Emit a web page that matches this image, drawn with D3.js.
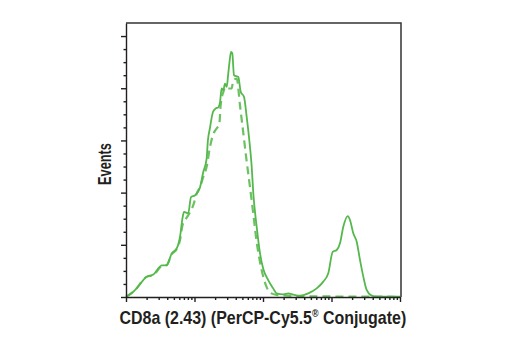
<!DOCTYPE html>
<html>
<head>
<meta charset="utf-8">
<script src="https://cdn.jsdelivr.net/npm/d3@7"></script>
<style>
  html, body { margin: 0; padding: 0; background: #fff; }
  svg { display: block; }
</style>
</head>
<body>
<svg id="chart" width="520" height="350"></svg>
<script>
// ---- data ----
const xLabel = "CD8a (2.43) (PerCP-Cy5.5";
const xLabelSup = "®";
const xLabelTail = " Conjugate)";
const yLabel = "Events";
const yTickValues = [0, 20, 40, 60, 80, 100];
const xDomain = [1, 10000];
const yDomain = [0, 105];

// solid histogram (stained)
const solidX = [1, 1.28, 1.43, 2.0, 2.5, 3.32, 3.93, 4.65, 5.5, 6.14, 6.68, 7.03, 8.11, 8.89, 10.2, 12.0, 13.4, 15.0, 15.7, 16.8,
  18.6, 20.3, 22.3, 23.6, 24.9, 26.3, 27.9, 29.5, 31.1, 32.4, 34.1, 35.6, 37.7, 43.6, 47.3, 52.8, 57.8, 63.1, 68.4, 72.2,
  80.9, 90.4, 101, 119, 140, 158, 198, 234, 277, 347, 458, 608, 759, 897, 1042, 1191, 1331, 1487, 1723, 1862,
  2080, 2332, 2606, 2913, 3263, 3864, 4568, 10000];
const solidY = [0.1, 2.0, 3.3, 7.8, 8.6, 12.1, 12.2, 16.7, 18.6, 23.0, 30.2, 32.6, 32.1, 38.3, 39.0, 41.9, 47.8, 52.8, 60.0, 64.7,
  70.9, 72.2, 72.7, 74.7, 79.9, 79.2, 81.8, 80.5, 85.6, 89.9, 93.9, 93.4, 85.0, 84.3, 78.6, 76.7, 69.0, 60.1, 49.9, 39.7,
  26.9, 16.8, 10.7, 6.5, 3.4, 1.4, 1.0, 1.4, 0.9, 0.5, 1.4, 3.3, 5.9, 9.1, 17.3, 18.0, 20.6, 26.9, 31.0, 29.5,
  24.4, 21.2, 14.2, 7.8, 2.7, 0.5, 0.1, 0.1];

// dashed histogram (control)
const dashedX = [1, 1.28, 2.0, 2.5, 3.32, 3.93, 4.65, 5.5, 6.14, 6.68, 7.15, 7.77, 8.6, 9.6, 10.8, 12.0, 13.4, 15.1, 16.8, 18.8,
  20.6, 23.0, 24.1, 26.3, 28.8, 31.1, 34.9, 36.8, 41.3, 46.1, 51.6, 57.0, 64.6, 72.2, 80.9, 90.4, 101, 113, 126, 158,
  198, 347, 10000];
const dashedY = [0.1, 2.0, 7.7, 8.4, 11.8, 12.2, 16.4, 18.4, 21.8, 27.5, 29.1, 30.6, 32.5, 35.2, 39.7, 42.1, 45.9, 50.1, 57.4, 62.4,
  64.3, 66.2, 73.5, 78.5, 80.5, 79.9, 79.9, 83.0, 83.7, 73.5, 62.8, 53.2, 42.1, 31.8, 21.0, 13.4, 7.7, 3.8, 1.7, 0.8,
  0.6, 0.3, 0.1];

// ---- layout ----
const mLeft = 126, mRight = 400, mTop = 23, mBottom = 297;
const svg = d3.select("#chart");
const green = "#55b84c";
const axisColor = "#231f20";

const x = d3.scaleLog().domain(xDomain).range([mLeft, mRight]);
const y = d3.scaleLinear().domain(yDomain).range([mBottom, mTop]);

// frame (top and right)
svg.append("path")
  .attr("d", `M${mLeft},${mTop}H${mRight + 1}V${mBottom}`)
  .attr("fill", "none").attr("stroke", "#333").attr("stroke-width", 1.5);

// curves
const line = d3.line().x(d => x(d[0])).y(d => y(d[1])).curve(d3.curveMonotoneX);
svg.append("path")
  .datum(dashedX.map((v, i) => [v, dashedY[i]]))
  .attr("d", line).attr("fill", "none")
  .attr("stroke", "#6cc162").attr("stroke-width", 2.2)
  .attr("stroke-dasharray", "8,5");
svg.append("path")
  .datum(solidX.map((v, i) => [v, solidY[i]]))
  .attr("d", line).attr("fill", "none")
  .attr("stroke", green).attr("stroke-width", 1.8);

// x axis
const xMinor = [];
for (let e = 0; e < 4; e++) for (let k = 2; k <= 9; k++) xMinor.push(k * Math.pow(10, e));
const xg = svg.append("g").attr("transform", `translate(0,${mBottom})`);
xg.append("g").call(d3.axisBottom(x).tickValues(xMinor).tickSize(3).tickFormat(""))
  .call(g => g.select(".domain").remove());
xg.append("g").call(d3.axisBottom(x).tickValues([1, 10, 100, 1000, 10000]).tickSize(5).tickSizeOuter(0).tickFormat(""));
xg.selectAll("line, path").attr("stroke", axisColor).attr("stroke-width", 1.4);

// y axis
const yMinor = d3.range(0, 101, 5).filter(v => v % 20 !== 0);
const yg = svg.append("g").attr("transform", `translate(${mLeft},0)`);
yg.append("g").call(d3.axisLeft(y).tickValues(yMinor).tickSize(2.5).tickFormat(""))
  .call(g => g.select(".domain").remove());
yg.append("g").call(d3.axisLeft(y).tickValues(yTickValues).tickSize(5).tickSizeOuter(0).tickFormat(""));
yg.selectAll("line, path").attr("stroke", axisColor).attr("stroke-width", 1.4);

// labels (condensed look via horizontal scaling of a bold sans)
const font = "'Liberation Sans', Arial, sans-serif";
const xlG = svg.append("g");
const xl = xlG.append("text")
  .attr("x", 0).attr("y", 0)
  .attr("font-family", font).attr("font-weight", "bold").attr("font-size", 18)
  .attr("fill", axisColor);
xl.append("tspan").text(xLabel);
xl.append("tspan").attr("font-size", 10).attr("dy", -7).text(xLabelSup);
xl.append("tspan").attr("dy", 7).text(xLabelTail);
const xw = xl.node().getBBox().width;
xlG.attr("transform", `translate(119.5,324) scale(${287 / xw},1)`);

const ylG = svg.append("g");
const yl = ylG.append("text")
  .attr("x", 0).attr("y", 0)
  .attr("font-family", font).attr("font-weight", "bold").attr("font-size", 18.5)
  .attr("fill", axisColor)
  .text(yLabel);
const yw = yl.node().getBBox().width;
ylG.attr("transform", `translate(110.7,185) rotate(-90) scale(${42 / yw},1)`);
</script>
</body>
</html>
